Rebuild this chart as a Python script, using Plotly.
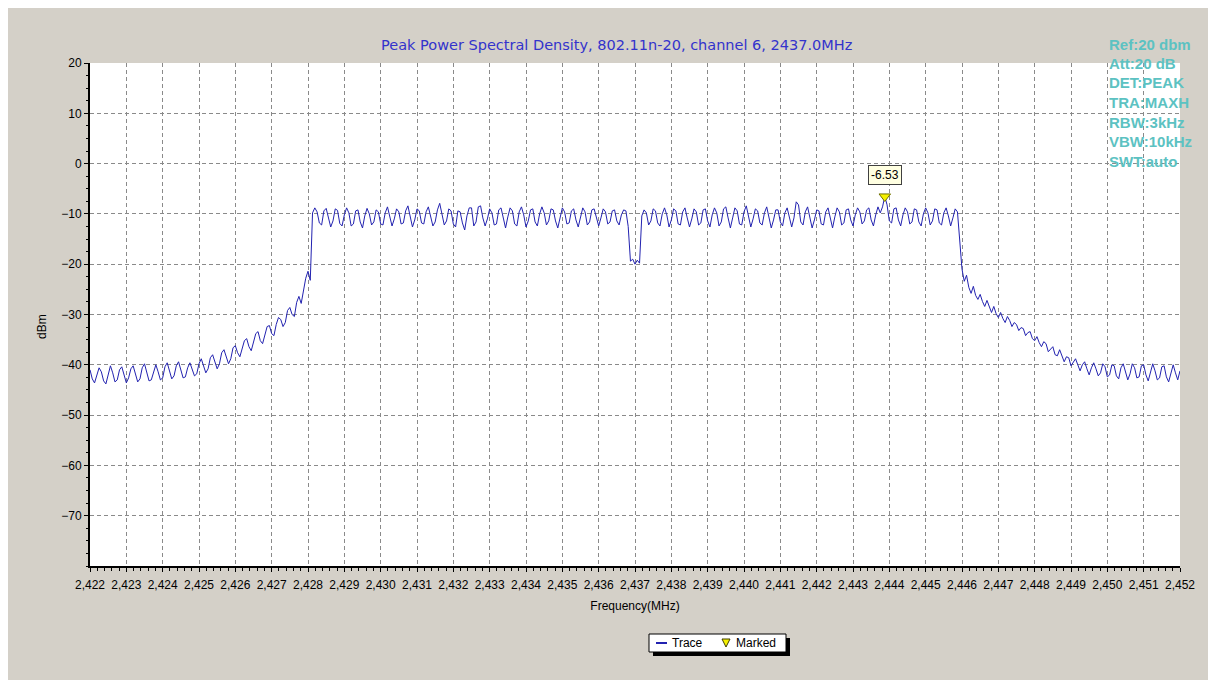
import plotly.graph_objects as go

# ---------------- data ----------------
F_START = 2422.0
F_STEP = 0.0625  # MHz per sample
level_dbm = [
    # 2422
    -41.0, -42.8, -43.6, -42.2, -40.6, -41.4, -43.2, -43.8, -41.8, -40.2, -41.6, -43.4, -43.0, -41.0, -40.4, -42.2,
    # 2423
    -43.6, -42.6, -40.8, -40.2, -42.0, -43.4, -42.8, -40.6, -39.8, -41.8, -43.2, -43.0, -41.2, -40.0, -41.4, -43.0,
    # 2424
    -42.6, -40.4, -39.6, -41.2, -42.8, -42.2, -40.2, -39.4, -41.0, -42.6, -42.4, -40.6, -39.6, -40.8, -42.2, -41.8,
    # 2425
    -39.8, -38.8, -40.2, -41.6, -40.8, -38.6, -38.0, -39.6, -40.8, -39.8, -37.6, -37.0, -38.6, -39.8, -38.8, -36.6,
    # 2426
    -36.2, -37.6, -38.4, -37.0, -35.2, -34.8, -36.4, -37.2, -35.6, -33.8, -33.4, -35.2, -35.8, -34.0, -32.4, -32.2,
    # 2427
    -33.8, -34.2, -32.0, -30.6, -31.0, -32.4, -31.6, -29.2, -28.6, -30.0, -30.4, -27.6, -26.4, -27.8, -25.2, -22.8,
    # 2428
    -21.4, -23.2, -9.8, -8.8, -9.6, -11.8, -12.2, -9.4, -8.9, -10.8, -12.6, -11.4, -9.0, -9.3, -11.9, -12.4,
    # 2429
    -10.2, -8.8, -9.8, -12.4, -12.0, -9.4, -9.2, -11.6, -12.8, -10.4, -8.9, -10.0, -12.2, -11.6, -9.2, -9.6,
    # 2430
    -12.0, -12.2, -9.8, -8.6, -10.6, -12.4, -11.0, -9.0, -9.6, -12.0, -11.8, -9.4, -8.4, -10.2, -12.6, -11.2,
    # 2431
    -9.0, -9.4, -11.8, -12.0, -9.6, -8.6, -10.4, -12.4, -11.6, -9.2, -7.9, -10.0, -12.2, -11.4, -9.0, -9.4,
    # 2432
    -12.0, -12.6, -9.4, -9.6, -11.8, -13.2, -10.4, -8.8, -8.8, -12.4, -11.6, -8.6, -8.4, -10.8, -12.4, -11.0,
    # 2433
    -9.0, -9.8, -12.2, -12.0, -9.2, -8.8, -11.0, -12.8, -10.6, -8.8, -9.4, -12.0, -12.4, -9.6, -8.6, -10.2,
    # 2434
    -12.6, -11.4, -9.2, -9.0, -11.6, -12.4, -10.0, -8.6, -9.8, -12.2, -11.4, -9.0, -9.2, -11.4, -12.8, -10.6,
    # 2435
    -8.8, -9.6, -12.0, -11.8, -9.4, -9.0, -11.2, -12.6, -10.4, -8.8, -9.6, -12.2, -11.6, -9.2, -9.0, -11.0,
    # 2436
    -12.4, -10.8, -9.0, -9.6, -12.0, -11.6, -9.4, -9.2, -11.4, -12.2, -10.2, -9.2, -9.4, -12.5, -19.4, -19.0,
    # 2437
    -20.0, -19.2, -19.8, -10.4, -9.2, -9.8, -12.2, -11.4, -9.0, -9.4, -11.8, -12.4, -10.0, -8.8, -10.2, -12.6,
    # 2438
    -11.2, -9.0, -9.4, -12.0, -12.2, -9.6, -8.8, -10.8, -12.6, -11.0, -9.0, -9.6, -12.2, -11.8, -9.2, -9.0,
    # 2439
    -11.4, -12.6, -10.2, -8.8, -9.8, -12.4, -11.6, -9.0, -8.6, -10.8, -12.8, -10.8, -8.8, -9.4, -12.0, -12.2,
    # 2440
    -9.6, -8.4, -10.6, -12.6, -11.0, -9.0, -9.4, -11.8, -12.2, -9.8, -8.6, -10.4, -12.8, -11.2, -9.2, -9.2,
    # 2441
    -11.6, -12.4, -9.8, -8.8, -10.8, -12.6, -10.8, -7.6, -8.2, -11.6, -12.2, -9.6, -8.6, -10.6, -12.8, -11.2,
    # 2442
    -9.2, -9.4, -12.0, -12.2, -9.6, -8.8, -11.0, -12.8, -10.6, -8.8, -9.6, -12.2, -11.8, -9.2, -9.0, -11.2,
    # 2443
    -12.4, -10.2, -8.8, -9.6, -12.0, -11.4, -9.2, -8.8, -11.2, -12.4, -10.2, -8.6, -9.8, -8.6, -6.53, -8.2,
    # 2444
    -11.4, -11.8, -9.0, -8.8, -11.2, -12.4, -10.2, -8.8, -9.6, -12.0, -11.6, -9.0, -9.2, -11.6, -12.4, -10.0,
    # 2445
    -8.8, -9.8, -12.2, -11.4, -9.0, -9.2, -11.8, -12.2, -9.8, -8.8, -10.4, -12.4, -10.8, -9.0, -9.6, -16.0,
    # 2446
    -21.0, -23.4, -22.2, -24.6, -25.8, -24.4, -26.2, -27.0, -26.0, -27.4, -28.4, -27.2, -28.6, -29.6, -28.4, -29.8,
    # 2447
    -30.6, -29.6, -30.8, -31.6, -30.4, -31.2, -32.4, -31.6, -32.0, -33.2, -32.6, -32.8, -34.2, -33.6, -33.4, -34.8,
    # 2448
    -35.2, -34.4, -35.6, -36.4, -35.4, -35.8, -37.4, -36.8, -36.4, -38.0, -38.2, -37.0, -38.2, -39.4, -38.4, -38.6,
    # 2449
    -40.2, -39.6, -38.8, -40.0, -41.2, -40.0, -39.4, -40.8, -42.0, -40.6, -39.6, -40.8, -42.2, -41.6, -39.8, -40.4,
    # 2450
    -42.4, -42.0, -40.0, -40.2, -42.2, -42.8, -40.6, -39.8, -41.6, -43.0, -41.8, -39.8, -40.6, -42.6, -42.4, -40.2,
    # 2451
    -40.0, -42.0, -43.2, -41.6, -39.8, -41.2, -43.0, -42.6, -40.4, -40.2, -42.4, -43.4, -41.4, -40.0, -41.6, -43.0,
    # 2452
    -41.2,
]
freq_mhz = [F_START + i * F_STEP for i in range(len(level_dbm))]

marker_freq = [2443.875]
marker_level = [-6.53]

x_tick_vals = list(range(2422, 2453))
y_tick_vals = [20, 10, 0, -10, -20, -30, -40, -50, -60, -70]

title_text = "Peak Power Spectral Density, 802.11n-20, channel 6, 2437.0MHz"
info_lines = ["Ref:20 dbm", "Att:20 dB", "DET:PEAK", "TRA:MAXH", "RBW:3kHz", "VBW:10kHz", "SWT:auto"]

# ---------------- layout helpers (page pixel -> paper) ----------------
PAGE_OFF = 8
W, H = 1208, 672
ML, MR, MT, MB = 82, 36, 55, 114
PW, PH = W - ML - MR, H - MT - MB


def px(xp):
    return (xp - PAGE_OFF - ML) / PW


def py(yp):
    return 1 - (yp - PAGE_OFF - MT) / PH


FONT = "Liberation Sans, Arial, sans-serif"
BG = "#D4D0C8"
TRACE_C = "#2222B0"

fig = go.Figure()
fig.add_trace(go.Scatter(x=freq_mhz, y=level_dbm, mode="lines", name="Trace",
                         line=dict(color=TRACE_C, width=1), hoverinfo="x+y"))
fig.add_trace(go.Scatter(x=marker_freq, y=marker_level, mode="markers", name="Marked",
                         marker=dict(symbol="triangle-down", size=10, color="#F5F000",
                                     line=dict(color="#707000", width=1))))

annotations = [
    dict(x=px(616), y=py(45), xref="paper", yref="paper", text=title_text, showarrow=False,
         xanchor="center", yanchor="middle", font=dict(family="DejaVu Sans, sans-serif", size=14.5, color="#3333CC")),
    dict(x=marker_freq[0], y=marker_level[0], xref="x", yref="y", text=f"{marker_level[0]:.2f}",
         showarrow=False, yshift=21, bgcolor="#FFFFE1", bordercolor="#404040", borderwidth=1,
         borderpad=2, font=dict(family=FONT, size=12, color="black")),
    dict(x=px(42), y=py(327), xref="paper", yref="paper", text="dBm", showarrow=False, textangle=-90,
         xanchor="center", yanchor="middle", font=dict(family=FONT, size=12, color="black")),
]
for k, line in enumerate(info_lines):
    annotations.append(dict(x=px(1107), y=py(44 + 19.5 * k), xref="paper", yref="paper", text=f"<b>{line}</b>",
                            showarrow=False, xanchor="left", yanchor="middle",
                            font=dict(family=FONT, size=15, color="#5CC2C2")))

# manual legend
annotations += [
    dict(x=px(670), y=py(643), xref="paper", yref="paper", text="Trace", showarrow=False,
         xanchor="left", yanchor="middle", font=dict(family=FONT, size=12, color="black")),
    dict(x=px(734), y=py(643), xref="paper", yref="paper", text="Marked", showarrow=False,
         xanchor="left", yanchor="middle", font=dict(family=FONT, size=12, color="black")),
]

shapes = [
    # right window border
    dict(type="line", xref="paper", yref="paper", x0=px(1212), x1=px(1212), y0=py(8), y1=py(680),
         line=dict(color="#808080", width=2)),
    # legend shadow + box
    dict(type="rect", xref="paper", yref="paper", x0=px(653), x1=px(790), y0=py(638), y1=py(656),
         fillcolor="black", line=dict(width=0)),
    dict(type="rect", xref="paper", yref="paper", x0=px(649), x1=px(786), y0=py(634), y1=py(652),
         fillcolor="white", line=dict(color="black", width=1)),
    dict(type="line", xref="paper", yref="paper", x0=px(656), x1=px(667), y0=py(643), y1=py(643),
         line=dict(color=TRACE_C, width=2)),
    dict(type="path", xref="paper", yref="paper",
         path=f"M {px(722)},{py(639)} L {px(730)},{py(639)} L {px(726)},{py(647)} Z",
         fillcolor="#F5F000", line=dict(color="#404000", width=1)),
]

fig.update_layout(
    width=W, height=H,
    margin=dict(l=ML, r=MR, t=MT, b=MB, pad=0),
    paper_bgcolor=BG, plot_bgcolor="white",
    showlegend=False,
    font=dict(family=FONT, size=12, color="black"),
    annotations=annotations, shapes=shapes,
)
fig.update_xaxes(
    range=[2422, 2452], tickvals=x_tick_vals, tickformat=",d",
    showline=True, linecolor="black", linewidth=2, mirror=False,
    ticks="outside", ticklen=4, tickcolor="black", tickwidth=1,
    showgrid=True, gridcolor="#8A8A8A", griddash="4px,3px", gridwidth=1,
    minor=dict(dtick=0.2, ticks="outside", ticklen=3, tickcolor="black", showgrid=False),
    title=dict(text="Frequency(MHz)", standoff=10, font=dict(size=12)),
    zeroline=False, tickfont=dict(size=12), ticklabelstandoff=3,
)
fig.update_yaxes(
    range=[-80, 20], tickvals=y_tick_vals,
    showline=True, linecolor="black", linewidth=2, mirror=False,
    ticks="outside", ticklen=4, tickcolor="black", tickwidth=1,
    showgrid=True, gridcolor="#8A8A8A", griddash="4px,3px", gridwidth=1,
    minor=dict(dtick=2.5, ticks="outside", ticklen=2, tickcolor="black", showgrid=False),
    title=dict(text=""),
    zeroline=False, tickfont=dict(size=12),
)

fig.write_html("out.html")
